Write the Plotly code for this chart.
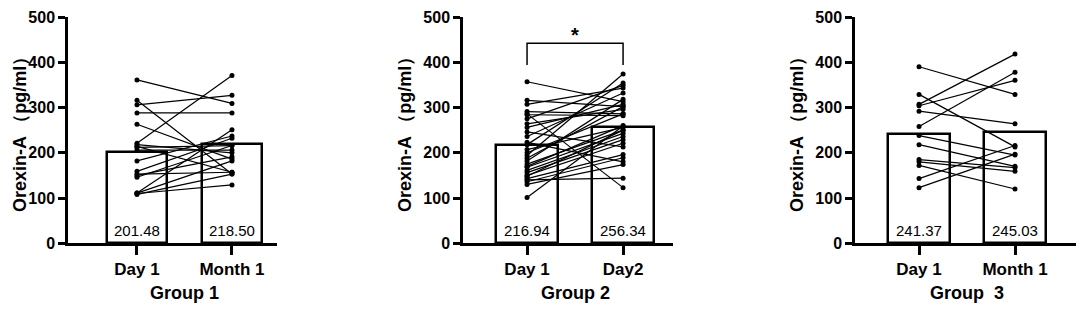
import plotly.graph_objects as go

# ---------------- data ----------------
g1_categories = ["Day 1", "Month 1"]
g1_day1 = [361, 316, 306, 288, 263, 221, 218, 214, 206, 182, 159, 153, 146, 150, 111, 111, 108, 110, 212]
g1_month1 = [309, 153, 327, 288, 186, 371, 200, 157, 206, 237, 232, 157, 216, 191, 251, 182, 153, 129, 216]
g1_means = [201.48, 218.50]

g2_categories = ["Day 1", "Day2"]
g2_day1 = [357, 316, 307, 291, 286, 284, 275, 264, 256, 246, 236, 223, 218, 207, 194,
           182, 175, 168, 161, 156, 150, 143, 140, 136, 130, 101, 200, 188, 170, 148]
g2_day2 = [313, 302, 343, 286, 123, 282, 349, 296, 307, 213, 332, 180, 354, 256, 374,
           318, 250, 243, 236, 229, 221, 196, 144, 189, 174, 259, 286, 302, 260, 250]
g2_means = [216.94, 256.34]

g3_categories = ["Day 1", "Month 1"]
g3_day1 = [390, 329, 307, 304, 292, 258, 238, 218, 185, 180, 172, 143, 123]
g3_month1 = [329, 213, 418, 360, 264, 378, 195, 170, 167, 159, 120, 216, 197]
g3_means = [241.37, 245.03]

group_titles = ["Group 1", "Group 2", "Group  3"]
y_title = "Orexin-A （pg/ml）"
y_ticks = [0, 100, 200, 300, 400, 500]

# ---------------- layout helpers ----------------
W, H = 1084, 310
OFF = 8  # page body margin offset of the figure in the browser
FONT = "Arial, Liberation Sans, sans-serif"

def px_x(p):
    return (p - OFF) / W

def px_y(p):
    return 1 - (p - OFF) / H

panels = [
    dict(cats=g1_categories, a=g1_day1, b=g1_month1, means=g1_means,
         dom=(68, 277), rng=(-0.726, 1.474), ytitle_x=None),
    dict(cats=g2_categories, a=g2_day1, b=g2_day2, means=g2_means,
         dom=(463, 673), rng=(-0.667, 1.52), ytitle_x=405),
    dict(cats=g3_categories, a=g3_day1, b=g3_month1, means=g3_means,
         dom=(855, 1078), rng=(-0.667, 1.656), ytitle_x=797),
]

fig = go.Figure()
annotations = []
shapes = []
Y0_PX, Y500_PX = 243.3, 17.0
ydom = [px_y(Y0_PX), px_y(Y500_PX)]

for i, p in enumerate(panels):
    n = "" if i == 0 else str(i + 1)
    xa, ya = "x" + n, "y" + n
    # bars (means)
    fig.add_trace(go.Bar(
        x=[0, 1], y=p["means"], width=0.64,
        marker=dict(color="white", line=dict(color="black", width=2.5)),
        xaxis=xa, yaxis=ya, showlegend=False, hoverinfo="skip", cliponaxis=False,
    ))
    # paired lines
    xs, ys = [], []
    for a, b in zip(p["a"], p["b"]):
        xs += [0, 1, None]
        ys += [a, b, None]
    fig.add_trace(go.Scatter(
        x=xs, y=ys, mode="lines+markers",
        line=dict(color="black", width=1.2),
        marker=dict(color="black", size=5),
        xaxis=xa, yaxis=ya, showlegend=False, cliponaxis=False,
    ))
    axis_common = dict(showline=True, linecolor="black", linewidth=2.5,
                       ticks="outside", tickcolor="black", tickwidth=2.5,
                       showgrid=False, zeroline=False, automargin=False,
                       ticklabeloverflow="allow")
    fig.layout["xaxis" + n] = dict(
        domain=[px_x(p["dom"][0]), px_x(p["dom"][1])], range=list(p["rng"]),
        tickvals=[0, 1], ticktext=p["cats"], ticklen=9, ticklabelstandoff=0,
        tickfont=dict(family=FONT, size=17, color="black", weight="bold"),
        anchor=ya, **axis_common)
    fig.layout["yaxis" + n] = dict(
        domain=ydom, range=[0, 500], tickvals=y_ticks, ticklen=7,
        tickfont=dict(family=FONT, size=16, color="black", weight="bold"),
        anchor=xa, **axis_common)
    # mean value labels inside bars
    for k, m in enumerate(p["means"]):
        annotations.append(dict(
            text=f"{m:.2f}", xref=xa, yref=ya, x=k, y=29, showarrow=False,
            xanchor="center", yanchor="middle",
            font=dict(family=FONT, size=15, color="black")))
    # group title
    annotations.append(dict(
        text=group_titles[i], xref=xa, yref="paper", x=0.5, y=px_y(293),
        showarrow=False, xanchor="center", yanchor="middle",
        font=dict(family=FONT, size=18, color="black", weight="bold")))
    # y title
    if p["ytitle_x"] is None:
        tx, anchor = 0, "left"
    else:
        tx, anchor = px_x(p["ytitle_x"]), "center"
    annotations.append(dict(
        text=y_title, xref="paper", yref="paper", x=tx, y=px_y(130),
        textangle=-90, showarrow=False, xanchor=anchor, yanchor="middle",
        font=dict(family=FONT, size=18, color="black", weight="bold")))

# significance bracket in Group 2
bracket_y, bracket_leg = 442, 394
shapes.append(dict(type="path", xref="x2", yref="y2",
                   path=f"M 0 {bracket_leg} L 0 {bracket_y} L 1 {bracket_y} L 1 {bracket_leg}",
                   line=dict(color="black", width=1.5)))
annotations.append(dict(text="*", xref="x2", yref="y2", x=0.5, y=460,
                        showarrow=False, xanchor="center", yanchor="middle",
                        font=dict(family=FONT, size=20, color="black", weight="bold")))

fig.update_layout(
    width=W, height=H, margin=dict(l=0, r=0, t=0, b=0),
    plot_bgcolor="white", paper_bgcolor="white",
    annotations=annotations, shapes=shapes, bargap=0,
)

fig.write_html("out.html")
